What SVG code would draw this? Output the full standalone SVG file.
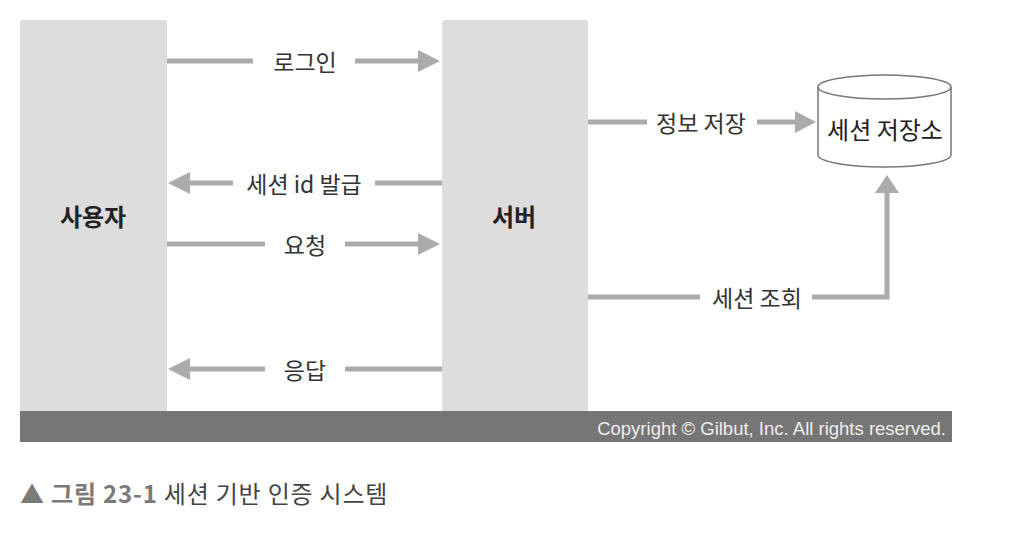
<svg xmlns="http://www.w3.org/2000/svg" width="1014" height="538" viewBox="0 0 1014 538">
<defs>
<style>
.box{fill:#dddddd;}
.lbl{font-family:"Noto Sans CJK KR","Noto Sans",sans-serif;font-size:23px;fill:#333333;text-anchor:middle;dominant-baseline:central;}
.big{font-family:"Noto Sans CJK KR","Noto Sans",sans-serif;font-size:24px;font-weight:bold;fill:#222222;text-anchor:middle;dominant-baseline:central;}
.ln{stroke:#ababab;stroke-width:5;fill:none;}
.hd{fill:#ababab;}
</style>
</defs>
<rect width="1014" height="538" fill="#ffffff"/>
<g id="user"><rect class="box" x="20" y="20" width="147" height="392" rx="3"/><text class="big" x="93" y="215">사용자</text></g>
<g id="server"><rect class="box" x="442" y="20" width="146" height="392" rx="3"/><text class="big" x="514" y="215">서버</text></g>
<g id="store">
<path d="M818,87 L818,155 A66.5,12 0 0 0 951,155 L951,87" fill="#ffffff" stroke="#777777" stroke-width="1.5"/>
<ellipse cx="884.5" cy="87" rx="66.5" ry="12" fill="#ffffff" stroke="#777777" stroke-width="1.5"/>
<text class="lbl" x="885" y="128" style="font-size:24px;fill:#222">세션 저장소</text>
</g>
<g id="connectors">
<line class="ln" x1="167" y1="61" x2="253" y2="61"/><line class="ln" x1="355" y1="61" x2="420" y2="61"/><polygon class="hd" points="418,50 440,61 418,72"/>
<text class="lbl" x="305" y="61">로그인</text>
<line class="ln" x1="188" y1="183" x2="233" y2="183"/><line class="ln" x1="375" y1="183" x2="442" y2="183"/><polygon class="hd" points="190,172 168,183 190,194"/>
<text class="lbl" x="304" y="183">세션 id 발급</text>
<line class="ln" x1="167" y1="244" x2="265" y2="244"/><line class="ln" x1="345" y1="244" x2="420" y2="244"/><polygon class="hd" points="418,233 440,244 418,255"/>
<text class="lbl" x="305" y="244">요청</text>
<line class="ln" x1="188" y1="369" x2="265" y2="369"/><line class="ln" x1="345" y1="369" x2="442" y2="369"/><polygon class="hd" points="190,358 168,369 190,380"/>
<text class="lbl" x="305" y="369">응답</text>
<line class="ln" x1="588" y1="122" x2="647" y2="122"/><line class="ln" x1="757" y1="122" x2="797" y2="122"/><polygon class="hd" points="795,111 816,122 795,133"/>
<text class="lbl" x="701" y="122">정보 저장</text>
<line class="ln" x1="588" y1="297" x2="700" y2="297"/><polyline class="ln" points="812,297 887,297 887,191"/><polygon class="hd" points="875,193 887,175 899,193"/>
<text class="lbl" x="757" y="297">세션 조회</text>
</g>
<g id="footer">
<rect x="20" y="411" width="932" height="31" fill="#767676"/>
<text x="946" y="435" font-family="Liberation Sans,Arial,sans-serif" font-size="18.5" fill="#eeeeee" text-anchor="end">Copyright © Gilbut, Inc. All rights reserved.</text>
</g>
<g id="caption">
<text x="20" y="503" font-family="Noto Sans CJK KR,Noto Sans,sans-serif" font-size="24" letter-spacing="0.8"><tspan fill="#7a7a7a" font-weight="bold">▲ 그림 23-1</tspan><tspan fill="#444444"> 세션 기반 인증 시스템</tspan></text>
</g>
</svg>
